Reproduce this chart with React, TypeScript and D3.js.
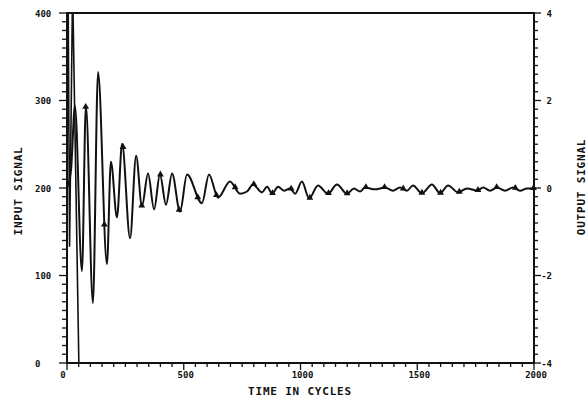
import React, { useEffect, useRef } from 'react';
import * as d3 from 'd3';

// input signal (left axis), a short burst at the start
const inputTimes = [0, 4, 11, 24, 52];
const inputValues = [200, 460, 133, 430, -20];

// output signal (right axis), turning points
const outputTimes = [
  0, 17, 34, 64, 81, 111, 133, 171, 188, 214, 236, 270, 296, 321, 347, 373, 398, 424, 450, 484,
  514, 578, 608, 647, 698, 741, 771, 797, 835, 857, 878, 904, 929, 955, 977, 1006, 1037, 1075,
  1118, 1156, 1199, 1229, 1255, 1276, 1319, 1362, 1396, 1426, 1456, 1482, 1520, 1563, 1598,
  1632, 1675, 1713, 1756, 1782, 1812, 1842, 1876, 1910, 1940, 1970, 2000,
];
const outputValues = [
  0, 0.4, 1.88, -1.9, 1.88, -2.63, 2.65, -1.74, 0.6, -0.67, 1.01, -1.15, 0.74, -0.42, 0.33, -0.49,
  0.31, -0.38, 0.33, -0.54, 0.31, -0.35, 0.31, -0.22, 0.15, -0.13, -0.08, 0.08, -0.1, 0.03, -0.13,
  0.03, -0.06, -0.01, -0.13, 0.15, -0.24, 0.06, -0.13, 0.08, -0.13, -0.01, -0.08, 0.01, -0.03,
  0.01, -0.06, 0.01, -0.06, 0.06, -0.12, 0.08, -0.12, 0.06, -0.1, -0.01, -0.06, 0.01, -0.06,
  0.01, -0.06, 0.01, -0.06, -0.01, -0.01,
];

// arrow markers sit on the output trace
const markerTimes = [
  80, 160, 240, 320, 400, 480, 560, 640, 720, 800, 880, 960, 1040, 1120, 1200, 1280, 1360, 1440,
  1520, 1600, 1680, 1760, 1840, 1920, 2000,
];

const xTicks = [0, 500, 1000, 1500, 2000];
const leftTicks = [0, 100, 200, 300, 400];
const rightTicks = [-4, -2, 0, 2, 4];

const W = 588;
const H = 401;
const ink = '#111';
const mono = '"DejaVu Sans Mono", monospace';

const App = () => {
  const svgRef = useRef<SVGSVGElement>(null);

  useEffect(() => {
    const svg = d3.select(svgRef.current);
    svg.selectAll('*').remove();

    const left = 67, right = 534, top = 13, bottom = 363;

    const x = d3.scaleLinear().domain([0, 2000]).range([left, right]);
    const yL = d3.scaleLinear().domain([0, 400]).range([bottom, top]);
    const yR = d3.scaleLinear().domain([-4, 4]).range([bottom, top]);

    svg.append('defs').append('clipPath').attr('id', 'plotclip')
      .append('rect')
      .attr('x', left).attr('y', top)
      .attr('width', right - left).attr('height', bottom - top);

    // frame
    svg.append('path')
      .attr('d', `M${left},${bottom}V${top}H${right}V${bottom}Z`)
      .attr('fill', 'none')
      .attr('stroke', ink)
      .attr('stroke-width', 2);

    const g = svg.append('g').attr('stroke', ink).attr('stroke-width', 1.3);

    // left ticks (outward)
    yL.ticks(40).forEach(v => {
      const major = v % 100 === 0;
      g.append('line')
        .attr('x1', left).attr('x2', left - (major ? 8 : 5))
        .attr('y1', yL(v)).attr('y2', yL(v));
    });
    // bottom ticks
    x.ticks(40).forEach(v => {
      const major = v % 500 === 0;
      g.append('line')
        .attr('x1', x(v)).attr('x2', x(v))
        .attr('y1', bottom).attr('y2', bottom + (major ? 7 : 4));
    });
    // right ticks
    yR.ticks(40).forEach(v => {
      const major = Math.abs(v % 2) < 1e-6;
      g.append('line')
        .attr('x1', right).attr('x2', right + (major ? 7 : 4))
        .attr('y1', yR(v)).attr('y2', yR(v));
    });

    const label = svg.append('g')
      .attr('font-family', mono)
      .attr('font-weight', 'bold')
      .attr('font-size', 9)
      .attr('fill', ink);

    leftTicks.forEach(v => {
      label.append('text')
        .attr('x', 35).attr('y', yL(v) + 3.5)
        .text(v);
    });
    rightTicks.forEach(v => {
      label.append('text')
        .attr('x', 552).attr('y', yR(v) + 3.5)
        .attr('text-anchor', 'end')
        .text(v);
    });
    xTicks.forEach(v => {
      label.append('text')
        .attr('x', x(v) + (v === 0 ? -4 : 2)).attr('y', 378)
        .attr('text-anchor', 'middle')
        .text(v);
    });

    const title = svg.append('g')
      .attr('font-family', mono)
      .attr('font-weight', 'bold')
      .attr('font-size', 11)
      .attr('letter-spacing', 0.8)
      .attr('fill', ink)
      .attr('text-anchor', 'middle');

    title.append('text').attr('x', 300).attr('y', 395).text('TIME IN CYCLES');
    title.append('text')
      .attr('transform', 'translate(22,191) rotate(-90)')
      .text('INPUT SIGNAL');
    title.append('text')
      .attr('transform', 'translate(585,187) rotate(-90)')
      .text('OUTPUT SIGNAL');

    const plot = svg.append('g').attr('clip-path', 'url(#plotclip)');

    const inputData = inputTimes.map((t, i) => [t, inputValues[i]] as [number, number]);
    plot.append('path')
      .attr('d', d3.line<[number, number]>().x(d => x(d[0])).y(d => yL(d[1]))(inputData))
      .attr('fill', 'none')
      .attr('stroke', ink)
      .attr('stroke-width', 1.6);

    const outputData = outputTimes.map((t, i) => [t, outputValues[i]] as [number, number]);
    const outPath = plot.append('path')
      .attr('d', d3.line<[number, number]>()
        .x(d => x(d[0])).y(d => yR(d[1]))
        .curve(d3.curveMonotoneX)(outputData))
      .attr('fill', 'none')
      .attr('stroke', ink)
      .attr('stroke-width', 2);

    // place markers on the drawn trace
    const node = outPath.node() as SVGPathElement;
    const total = node.getTotalLength();
    const atX = (px: number) => {
      let lo = 0, hi = total;
      for (let k = 0; k < 40; k++) {
        const mid = (lo + hi) / 2;
        if (node.getPointAtLength(mid).x < px) lo = mid; else hi = mid;
      }
      return lo;
    };
    const tri = d3.symbol().type(d3.symbolTriangle).size(20);
    markerTimes.forEach(t => {
      const len = atX(Math.min(x(t), right - 0.5));
      const p = node.getPointAtLength(len);
      svg.append('path')
        .attr('d', tri())
        .attr('transform', `translate(${p.x},${p.y - 0.5})`)
        .attr('fill', ink);
    });
  }, []);

  return (
    <svg
      ref={svgRef}
      width={W}
      height={H}
      style={{ position: 'absolute', left: 0, top: 0, background: '#fff' }}
    />
  );
};

export default App;
